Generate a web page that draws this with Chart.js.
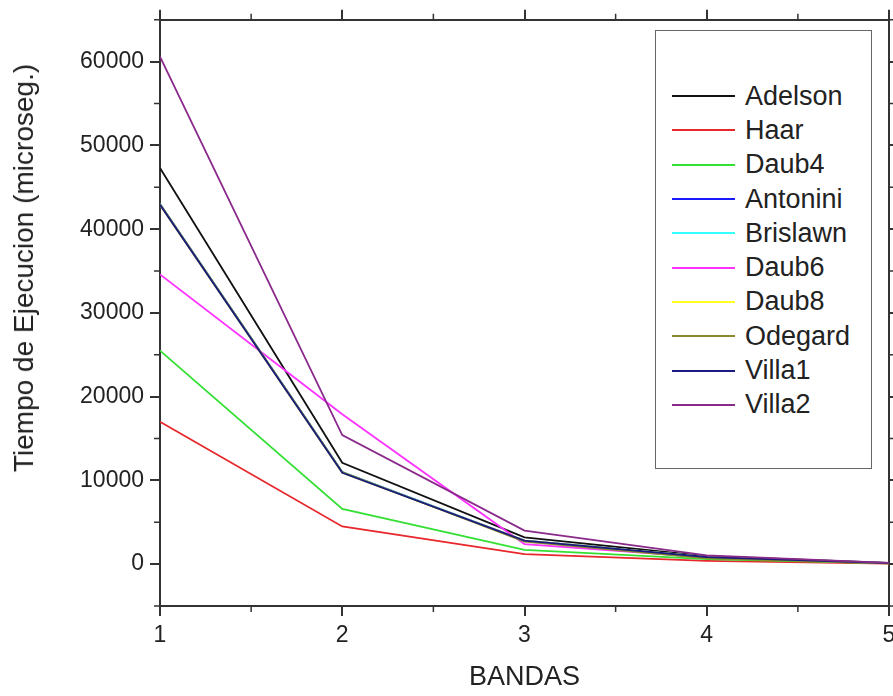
<!DOCTYPE html>
<html>
<head>
<meta charset="utf-8">
<script src="https://cdn.jsdelivr.net/npm/chart.js@4.4.0/dist/chart.umd.min.js"></script>
<style>
  html, body { margin: 0; padding: 0; background: #fff; overflow: hidden; }
  #contenedor { position: relative; width: 920px; height: 696px; }
  #tituloY {
    position: absolute; left: 24px; top: 268px;
    transform: translate(-50%, -50%) rotate(-90deg);
    font: 28px "Liberation Sans", Arial, sans-serif; line-height: 1;
    color: #222; white-space: nowrap;
  }
  #leyenda {
    position: absolute; left: 655px; top: 30px; width: 217px; height: 439px;
    border: 1px solid #666; background: #fff; box-sizing: border-box;
    padding-top: 48px;
    font: 27px "Liberation Sans", Arial, sans-serif; color: #222;
  }
  #leyenda .fila { display: flex; align-items: center; height: 34.3px; }
  #leyenda .linea { width: 63px; height: 2px; margin-left: 16px; margin-right: 10px; }
</style>
</head>
<body>
<div id="contenedor">
  <canvas id="grafico" width="920" height="696"></canvas>
  <div id="tituloY">Tiempo de Ejecucion (microseg.)</div>
  <div id="leyenda"></div>
</div>
<script>
// DATOS
const bandas = [1, 2, 3, 4, 5];
const adelson  = [47300, 12100, 3200, 950, 150];
const haar     = [17000, 4500, 1200, 400, 60];
const daub4    = [25500, 6600, 1700, 600, 80];
const antonini = [43000, 11000, 2800, 850, 120];
const brislawn = [43000, 11000, 2800, 850, 120];
const daub6    = [34600, 17900, 2400, 800, 120];
const daub8    = [42900, 10900, 2800, 850, 120];
const odegard  = [43000, 11000, 2700, 700, 100];
const villa1   = [42900, 10900, 2800, 850, 120];
const villa2   = [60600, 15400, 4000, 1050, 150];

const nombres = ["Adelson", "Haar", "Daub4", "Antonini", "Brislawn", "Daub6", "Daub8", "Odegard", "Villa1", "Villa2"];
const valores = [adelson, haar, daub4, antonini, brislawn, daub6, daub8, odegard, villa1, villa2];
const colores = ["#111111", "#e8282c", "#33e033", "#1a1aff", "#33ffff", "#ff33ff", "#ffff22", "#8a8a2a", "#1a1a80", "#8a2a8a"];

// marcas del eje Y
const marcasY = [0, 10000, 20000, 30000, 40000, 50000, 60000];
const marcasYMenores = [-5000, 5000, 15000, 25000, 35000, 45000, 55000, 65000];
const marcasXMenores = [1.5, 2.5, 3.5, 4.5];

Chart.defaults.font.family = "'Liberation Sans', Arial, sans-serif";
Chart.defaults.color = "#222";

const datasets = nombres.map((nombre, i) => ({
    label: nombre,
    data: valores[i].map((v, j) => ({ x: bandas[j], y: v })),
    borderColor: colores[i],
    backgroundColor: colores[i],
    borderWidth: 1.8,
    pointRadius: 0,
    tension: 0,
    order: nombres.length - i
}));

// marcas menores en los ejes
const marcasMenores = {
    id: "marcasMenores",
    afterDraw(chart) {
        const { ctx, chartArea: a, scales: { x, y } } = chart;
        ctx.save();
        ctx.strokeStyle = "#333";
        ctx.lineWidth = 1.5;
        ctx.beginPath();
        marcasXMenores.forEach(v => {
            const px = x.getPixelForValue(v);
            ctx.moveTo(px, a.bottom); ctx.lineTo(px, a.bottom + 6);
            ctx.moveTo(px, a.top); ctx.lineTo(px, a.top - 6);
        });
        marcasYMenores.forEach(v => {
            const py = y.getPixelForValue(v);
            ctx.moveTo(a.left, py); ctx.lineTo(a.left - 6, py);
            ctx.moveTo(a.right, py); ctx.lineTo(a.right + 6, py);
        });
        ctx.stroke();
        ctx.restore();
    }
};

const ejeComun = {
    border: { display: true, color: "#333", width: 2 },
    grid: { display: true, drawOnChartArea: false, drawTicks: true, tickLength: 10, color: "#333", lineWidth: 2 }
};
const fijarMarcasY = (s) => { s.ticks = marcasY.map(v => ({ value: v })); };

new Chart(document.getElementById("grafico"), {
    type: "line",
    data: { datasets },
    options: {
        responsive: false,
        animation: false,
        layout: { padding: 0 },
        plugins: { legend: { display: false }, tooltip: { enabled: false } },
        scales: {
            x: {
                type: "linear", position: "bottom", min: 1, max: 5,
                ...ejeComun,
                ticks: { stepSize: 1, font: { size: 23 }, padding: 6, color: "#222" },
                title: { display: true, text: "BANDAS", font: { size: 27 }, color: "#222", padding: { top: 0, bottom: 2 } },
                afterFit: (s) => { s.height = 90; }
            },
            x2: {
                type: "linear", position: "top", min: 1, max: 5,
                ...ejeComun,
                ticks: { stepSize: 1, display: false },
                afterFit: (s) => { s.height = 15; }
            },
            y: {
                type: "linear", position: "left", min: -5000, max: 65000,
                ...ejeComun,
                afterBuildTicks: fijarMarcasY,
                ticks: { font: { size: 23 }, padding: 6, color: "#222", callback: (v) => String(v) },
                afterFit: (s) => { s.width = 160; }
            },
            y2: {
                type: "linear", position: "right", min: -5000, max: 65000,
                ...ejeComun,
                afterBuildTicks: fijarMarcasY,
                ticks: { display: false },
                afterFit: (s) => { s.width = 31; }
            }
        }
    },
    plugins: [marcasMenores]
});

// LEYENDA
const $leyenda = document.getElementById("leyenda");
nombres.forEach((nombre, i) => {
    const fila = document.createElement("div");
    fila.className = "fila";
    fila.innerHTML = '<span class="linea" style="background:' + colores[i] + '"></span><span>' + nombre + '</span>';
    $leyenda.appendChild(fila);
});
</script>
</body>
</html>
